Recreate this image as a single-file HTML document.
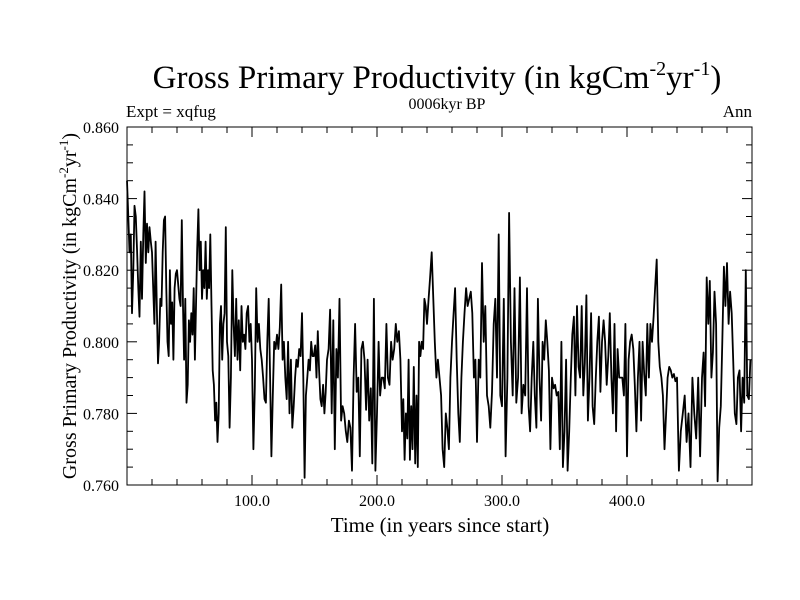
<!DOCTYPE html>
<html><head><meta charset="utf-8"><style>
body{margin:0;background:#fff;}
svg{display:block;font-family:"Liberation Serif",serif;}
</style></head><body>
<svg id="chart" width="800" height="600">
<text x="437" y="88" font-size="33" text-anchor="middle">Gross Primary Productivity (in kgCm<tspan font-size="20" dy="-13">-2</tspan><tspan dy="13">yr</tspan><tspan font-size="20" dy="-13">-1</tspan><tspan dy="13">)</tspan></text>
<text x="126" y="117" font-size="17">Expt = xqfug</text>
<text x="447" y="109" font-size="16" text-anchor="middle">0006kyr BP</text>
<text x="752" y="117" font-size="17" text-anchor="end">Ann</text>
<text transform="translate(76,306) rotate(-90)" font-size="20" text-anchor="middle">Gross Primary Productivity (in kgCm<tspan font-size="13" dy="-8">-2</tspan><tspan dy="8">yr</tspan><tspan font-size="13" dy="-8">-1</tspan><tspan dy="8">)</tspan></text>
<text x="440" y="532" font-size="21" text-anchor="middle">Time (in years since start)</text>
<g id="ticks"></g>
<path id="line" fill="none" stroke="#000" stroke-width="1.8" stroke-linejoin="round"/>
<rect x="127" y="127" width="625" height="358" fill="none" stroke="#000" stroke-width="1"/>
</svg>
<script>
const xTickValues=[100,200,300,400];
const xTickLabels=["100.0","200.0","300.0","400.0"];
const yTickValues=[0.76,0.78,0.80,0.82,0.84,0.86];
const yTickLabels=["0.760","0.780","0.800","0.820","0.840","0.860"];
const xMax=500;
const segmentYears=20;
// GPP values (x1000), one sub-array per 20-year segment
const segments=[
[845,835,825,830,808,820,838,835,826,815,807,828,812,830,842,822,833,825,832,828],
[825,815,805,828,810,794,800,812,810,825,834,835,815,800,796,820,805,811,795,815,819],
[820,816,812,810,834,810,795,812,783,788,806,800,808,802,815,795,810,826,837,820,828],
[812,820,815,828,812,820,815,830,810,792,788,778,783,772,780,805,810,795,805,808,832],
[800,796,776,790,820,805,796,812,795,806,792,810,800,802,798,808,810,800,805],
[795,770,787,815,800,805,798,795,790,784,783,800,812,790,768,785,800,798],
[802,798,804,816,795,800,790,784,800,780,795,776,782,790,795,793,798,796],
[808,790,762,785,790,795,792,800,796,796,799,790,803,792,784,782,788,780,786],
[795,798,809,780,806,770,798,790,812,778,782,780,775,772,778,776],
[764,790,805,786,790,768,798,800,795,781,795,778,787,766,812,764],
[780,800,785,790,790,787,805,790,788,800,795,798,805,800,803,795],
[775,784,767,780,773,795,767,782,770,793,766,785,765,800,796,800,798,812,810],
[805,812,818,825,812,800,790,795,790,785,770,765,780,776,770,790],
[800,808,815,795,780,772,790,800,808,815,810,812,814,808,790,795],
[772,795,790,822,800,810,785,782,776,786,805,812,790,830,785],
[782,812,768,790,836,800,785,815,783,790,818,780,788,785],
[815,782,775,790,800,785,776,812,790,778,800,795,806,800,792,770],
[790,787,788,785,786,770,800,765,775,795,764,775,790,802,807,785],
[810,793,790,810,785,794,813,778,790,808,782,777,790,800,807,786],
[800,806,800,788,796,808,790,780,805,775,798,790,790,790,785,805],
[768,795,800,802,798,788,775,790,800,778,800,791,785,805,790,805],
[800,807,815,823,800,793,790,785,770,780,790,793,792,790,791,789],
[790,764,775,780,785,772,780,765,790,780,773,790,768],
[790,797,782,818,805,817,790,797,814,805,761,776,782,800,821,810],
[822,805,814,808,794,780,777,790,792,775,790,783,820,785,784,795]];
const L=127,R=752,T=127,B=485,yMin=0.76,yMax=0.86;
const sx=v=>L+(v/xMax)*(R-L);
const sy=v=>B-(v-yMin)/(yMax-yMin)*(B-T);
const NS='http://www.w3.org/2000/svg';
const g=document.getElementById('ticks');
function ln(x1,y1,x2,y2){const e=document.createElementNS(NS,'line');e.setAttribute('x1',x1);e.setAttribute('y1',y1);e.setAttribute('x2',x2);e.setAttribute('y2',y2);e.setAttribute('stroke','#000');


g.appendChild(e);}
for(let v=20;v<xMax;v+=20){const x=sx(v);const len=v%100===0?10:6;ln(x,B,x,B-len);ln(x,T,x,T+len);}
for(let i=1;i<20;i++){const y=sy(yMin+i*0.005);const len=i%4===0?10:6;ln(L,y,L+len,y);ln(R,y,R-len,y);}
xTickValues.forEach((v,i)=>{const t=document.createElementNS(NS,'text');t.setAttribute('x',sx(v));t.setAttribute('y',B+21);t.setAttribute('font-size','16');t.setAttribute('text-anchor','middle');t.textContent=xTickLabels[i];


g.appendChild(t);});
yTickValues.forEach((v,i)=>{const t=document.createElementNS(NS,'text');t.setAttribute('x',L-8);t.setAttribute('y',sy(v)+6);t.setAttribute('font-size','16');t.setAttribute('text-anchor','end');t.textContent=yTickLabels[i];


g.appendChild(t);});
let d='';let first=true;
segments.forEach((seg,s)=>{seg.forEach((v,i)=>{const yr=s*segmentYears+i*segmentYears/seg.length;d+=(first?'M':'L')+sx(yr).toFixed(1)+','+sy(v/1000).toFixed(1);first=false;});});
document.getElementById('line').setAttribute('d',d);
</script>
</body></html>
